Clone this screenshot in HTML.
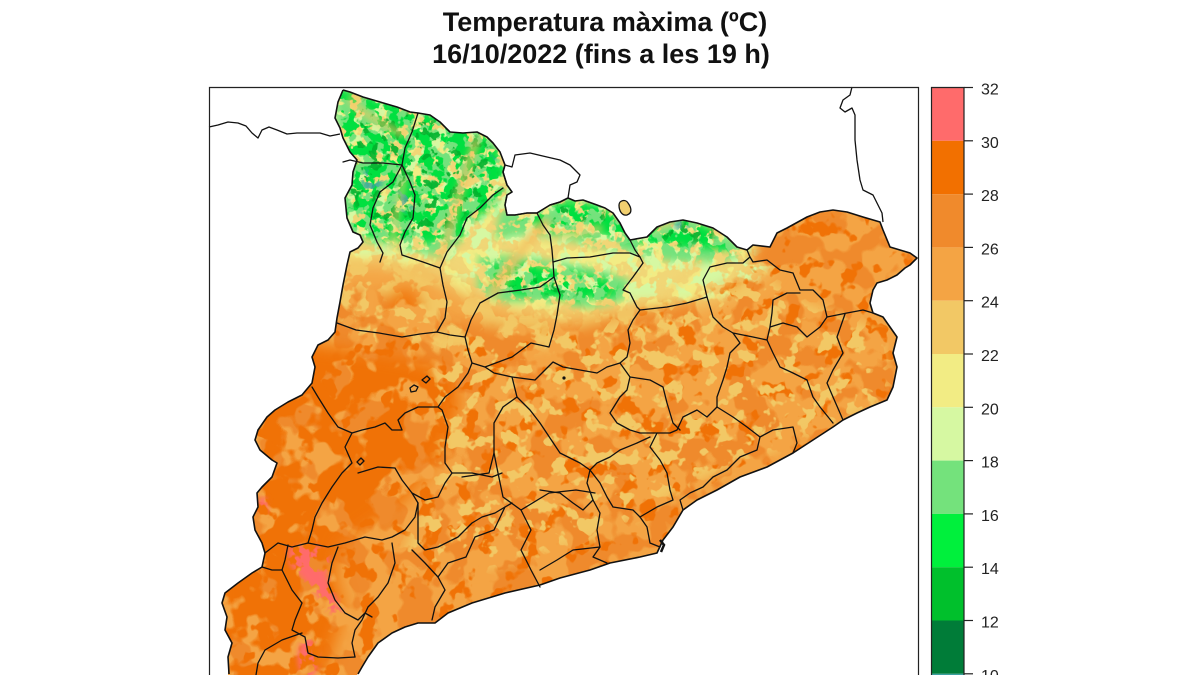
<!DOCTYPE html>
<html><head><meta charset="utf-8"><style>
html,body{margin:0;padding:0;background:#fff;width:1200px;height:675px;overflow:hidden;}
svg{display:block;}
text{font-family:"Liberation Sans",Arial,Helvetica,sans-serif;}
</style></head><body>
<svg width="1200" height="675" viewBox="0 0 1200 675" xmlns="http://www.w3.org/2000/svg" overflow="hidden">
<defs>
<clipPath id="cat"><path d="M343,90 L350,92 363,97 380,102 397,107 410,112 418,113 430,115 440,122 450,132 463,133 477,132 487,137 493,143 500,152 505,165 503,172 507,185 512,192 507,195 505,205 507,215 515,215 527,213 537,213 550,205 560,202 568,198 575,201 583,200 597,205 605,208 613,213 620,223 625,233 630,240 647,237 657,227 670,222 683,220 697,223 713,228 727,237 737,247 747,250 753,245 770,247 777,233 787,228 807,217 820,212 833,210 847,212 863,217 880,222 883,230 890,247 900,250 910,253 917,258 910,265 905,268 897,275 887,280 877,283 873,290 870,303 873,313 883,317 890,327 897,337 893,353 897,367 893,387 887,400 870,407 857,413 843,420 833,427 813,440 793,453 767,467 740,477 717,490 697,500 683,510 673,527 663,540 657,553 640,557 610,563 590,570 560,578 540,585 505,593 472,603 448,613 435,623 418,623 405,627 392,633 378,643 368,657 362,667 357,675 228,675 228,657 232,643 225,630 227,617 222,603 225,593 238,583 252,573 262,567 265,553 262,543 255,530 253,517 258,507 257,493 262,487 272,477 277,463 272,460 260,450 255,440 258,430 267,417 275,410 288,402 302,395 312,383 315,367 312,357 318,345 328,340 335,332 337,318 340,302 343,285 347,265 350,252 358,248 363,242 360,235 353,232 347,218 345,198 352,185 353,172 357,160 350,152 343,138 340,128 335,118 338,102 Z"/></clipPath>

<filter id="fMed" filterUnits="userSpaceOnUse" x="200" y="80" width="730" height="600" color-interpolation-filters="sRGB">
<feTurbulence type="fractalNoise" baseFrequency="0.03" numOctaves="3" seed="3" result="n"/>
<feColorMatrix in="n" type="matrix" values="0 0 0 0 0.937 0 0 0 0 0.541 0 0 0 0 0.172 16 0 0 0 -8" result="c"/>
<feGaussianBlur in="SourceAlpha" stdDeviation="6" result="b"/>
<feComposite in="c" in2="b" operator="in"/></filter>

<filter id="fDark" filterUnits="userSpaceOnUse" x="200" y="80" width="730" height="600" color-interpolation-filters="sRGB">
<feTurbulence type="fractalNoise" baseFrequency="0.03" numOctaves="3" seed="7" result="n"/>
<feColorMatrix in="n" type="matrix" values="0 0 0 0 0.941 0 0 0 0 0.447 0 0 0 0 0.024 16 0 0 0 -7.04" result="c"/>
<feGaussianBlur in="SourceAlpha" stdDeviation="8" result="b"/>
<feComposite in="c" in2="b" operator="in"/></filter>

<filter id="fDarkLo" filterUnits="userSpaceOnUse" x="200" y="80" width="730" height="600" color-interpolation-filters="sRGB">
<feTurbulence type="fractalNoise" baseFrequency="0.05" numOctaves="3" seed="9" result="n"/>
<feColorMatrix in="n" type="matrix" values="0 0 0 0 0.941 0 0 0 0 0.447 0 0 0 0 0.024 16 0 0 0 -9.6" result="c"/>
<feGaussianBlur in="SourceAlpha" stdDeviation="6" result="b"/>
<feComposite in="c" in2="b" operator="in"/></filter>

<filter id="fYel" filterUnits="userSpaceOnUse" x="200" y="80" width="730" height="600" color-interpolation-filters="sRGB">
<feTurbulence type="fractalNoise" baseFrequency="0.06" numOctaves="3" seed="11" result="n"/>
<feColorMatrix in="n" type="matrix" values="0 0 0 0 0.949 0 0 0 0 0.784 0 0 0 0 0.396 16 0 0 0 -9.12" result="c"/>
<feGaussianBlur in="SourceAlpha" stdDeviation="6" result="b"/>
<feComposite in="c" in2="b" operator="in"/></filter>

<filter id="fYelN" filterUnits="userSpaceOnUse" x="200" y="80" width="730" height="600" color-interpolation-filters="sRGB">
<feTurbulence type="fractalNoise" baseFrequency="0.06" numOctaves="3" seed="41" result="n"/>
<feColorMatrix in="n" type="matrix" values="0 0 0 0 0.949 0 0 0 0 0.784 0 0 0 0 0.396 16 0 0 0 -7.6" result="c"/>
<feGaussianBlur in="SourceAlpha" stdDeviation="6" result="b"/>
<feComposite in="c" in2="b" operator="in"/></filter>

<filter id="fYel2" filterUnits="userSpaceOnUse" x="200" y="80" width="730" height="600" color-interpolation-filters="sRGB">
<feTurbulence type="fractalNoise" baseFrequency="0.06" numOctaves="3" seed="13" result="n"/>
<feColorMatrix in="n" type="matrix" values="0 0 0 0 0.949 0 0 0 0 0.925 0 0 0 0 0.518 16 0 0 0 -8" result="c"/>
<feGaussianBlur in="SourceAlpha" stdDeviation="6" result="b"/>
<feComposite in="c" in2="b" operator="in"/></filter>

<filter id="fLG" filterUnits="userSpaceOnUse" x="200" y="80" width="730" height="600" color-interpolation-filters="sRGB">
<feTurbulence type="fractalNoise" baseFrequency="0.07" numOctaves="3" seed="17" result="n"/>
<feColorMatrix in="n" type="matrix" values="0 0 0 0 0.839 0 0 0 0 0.973 0 0 0 0 0.635 16 0 0 0 -8.3" result="c"/>
<feGaussianBlur in="SourceAlpha" stdDeviation="5" result="b"/>
<feComposite in="c" in2="b" operator="in"/></filter>

<filter id="fG1" filterUnits="userSpaceOnUse" x="200" y="80" width="730" height="600" color-interpolation-filters="sRGB">
<feTurbulence type="fractalNoise" baseFrequency="0.08" numOctaves="3" seed="19" result="n"/>
<feColorMatrix in="n" type="matrix" values="0 0 0 0 0.455 0 0 0 0 0.886 0 0 0 0 0.486 16 0 0 0 -7.3" result="c"/>
<feGaussianBlur in="SourceAlpha" stdDeviation="4" result="b"/>
<feComposite in="c" in2="b" operator="in"/></filter>

<filter id="fG2" filterUnits="userSpaceOnUse" x="200" y="80" width="730" height="600" color-interpolation-filters="sRGB">
<feTurbulence type="fractalNoise" baseFrequency="0.09" numOctaves="3" seed="23" result="n"/>
<feColorMatrix in="n" type="matrix" values="0 0 0 0 0 0 0 0 0 0.878 0 0 0 0 0.251 16 0 0 0 -8.2" result="c"/>
<feGaussianBlur in="SourceAlpha" stdDeviation="4" result="b"/>
<feComposite in="c" in2="b" operator="in"/></filter>

<filter id="fG3" filterUnits="userSpaceOnUse" x="200" y="80" width="730" height="600" color-interpolation-filters="sRGB">
<feTurbulence type="fractalNoise" baseFrequency="0.1" numOctaves="3" seed="29" result="n"/>
<feColorMatrix in="n" type="matrix" values="0 0 0 0 0 0 0 0 0 0.698 0 0 0 0 0.173 16 0 0 0 -9.6" result="c"/>
<feGaussianBlur in="SourceAlpha" stdDeviation="3" result="b"/>
<feComposite in="c" in2="b" operator="in"/></filter>

<filter id="fTeal" filterUnits="userSpaceOnUse" x="200" y="80" width="730" height="600" color-interpolation-filters="sRGB">
<feTurbulence type="fractalNoise" baseFrequency="0.1" numOctaves="3" seed="37" result="n"/>
<feColorMatrix in="n" type="matrix" values="0 0 0 0 0.227 0 0 0 0 0.627 0 0 0 0 0.627 16 0 0 0 -8.6" result="c"/>
<feGaussianBlur in="SourceAlpha" stdDeviation="3" result="b"/>
<feComposite in="c" in2="b" operator="in"/></filter>

<filter id="fPink" filterUnits="userSpaceOnUse" x="200" y="80" width="730" height="600" color-interpolation-filters="sRGB">
<feTurbulence type="fractalNoise" baseFrequency="0.07" numOctaves="3" seed="31" result="n"/>
<feColorMatrix in="n" type="matrix" values="0 0 0 0 1 0 0 0 0 0.42 0 0 0 0 0.42 16 0 0 0 -7.6" result="c"/>
<feGaussianBlur in="SourceAlpha" stdDeviation="3" result="b"/>
<feComposite in="c" in2="b" operator="in"/></filter>

<filter id="bl10" x="-20%" y="-20%" width="140%" height="140%"><feGaussianBlur stdDeviation="10"/></filter>
<filter id="bl4" x="-20%" y="-20%" width="140%" height="140%"><feGaussianBlur stdDeviation="3.5"/></filter>
</defs>

<rect width="1200" height="675" fill="#fff"/>

<text x="605" y="31" font-size="27" font-weight="bold" text-anchor="middle" fill="#111">Temperatura màxima (ºC)</text>
<text x="601" y="63" font-size="27" font-weight="bold" text-anchor="middle" fill="#111">16/10/2022 (fins a les 19 h)</text>

<g clip-path="url(#cat)">
  <rect x="200" y="80" width="730" height="595" fill="#f4a444"/>
  <path d="M330,85 L520,85 600,190 650,215 720,215 760,240 770,265 740,290 700,305 640,312 560,318 490,305 450,285 420,270 380,262 330,262 Z" fill="#f1d676" filter="url(#bl10)"/>
  <path d="M330,85 L520,85 600,190 650,215 720,215 760,240 770,265 740,290 700,305 640,312 560,318 490,305 450,285 420,270 380,262 330,262 Z" fill="#000" filter="url(#fYel2)"/>
  <path d="M330,85 L520,85 600,190 650,215 720,215 760,240 770,265 740,290 700,298 640,300 560,300 490,290 440,265 380,255 330,255 Z" fill="#000" filter="url(#fLG)"/>
  <path d="M330,255 L400,262 450,285 500,305 560,315 640,310 700,305 700,335 600,345 520,350 450,350 380,345 330,340 Z" fill="#000" filter="url(#fYelN)"/>
  <path d="M220,290 L330,285 400,300 450,320 520,330 570,330 630,315 700,300 745,275 760,240 800,205 930,205 930,690 220,690 Z" fill="#000" filter="url(#fMed)"/>
  <path d="M220,320 L330,318 400,330 450,335 520,335 570,330 630,315 700,300 745,275 760,240 800,205 930,205 930,690 220,690 Z" fill="#000" filter="url(#fDarkLo)"/>
  <path d="M215,350 L300,342 360,350 410,358 450,370 460,400 450,440 430,470 405,500 370,525 340,545 335,575 345,610 335,640 320,690 215,690 Z" fill="#000" filter="url(#fDark)"/>
  <ellipse cx="405" cy="312" rx="14" ry="24" fill="#000" filter="url(#fDark)"/>
  <path d="M430,330 L560,330 700,300 760,270 800,300 880,330 890,400 800,440 700,480 600,540 480,570 400,560 440,460 Z" fill="#000" filter="url(#fYel)"/>
  <g fill="#000" filter="url(#fG1)">
    <path d="M335,88 L420,110 470,128 495,140 505,170 500,200 480,215 460,240 445,258 420,252 395,246 372,242 350,236 340,200 Z"/>
    <path d="M500,210 L540,212 570,200 600,205 625,222 645,233 690,218 735,240 745,252 720,262 680,262 650,258 620,250 590,245 555,238 520,235 495,240 Z"/>
    <path d="M478,255 L515,255 555,262 595,268 630,280 625,300 590,308 545,302 505,302 478,292 Z"/>
  </g>
  <g fill="#000" filter="url(#fG2)">
    <path d="M335,88 L420,110 470,128 495,140 505,170 500,200 480,215 460,238 420,244 395,240 372,238 350,232 340,200 Z"/>
    <path d="M505,212 L540,212 570,200 600,205 625,222 645,233 690,218 735,240 730,250 690,248 650,245 600,235 550,232 Z"/>
    <path d="M490,264 L530,264 570,272 610,280 620,295 580,300 530,296 495,290 Z"/>
  </g>
  <g fill="#000" filter="url(#fG3)" opacity="0.9">
    <path d="M340,95 L420,114 470,132 492,148 496,190 470,212 450,230 420,234 390,228 362,222 347,190 Z"/>
    <path d="M548,205 L580,203 610,212 605,222 575,224 550,220 Z"/>
    <path d="M658,228 L690,220 718,232 708,243 680,244 658,238 Z"/>
    <path d="M498,276 L530,278 575,282 598,290 580,296 530,292 500,288 Z"/>
  </g>
  <g fill="#000" filter="url(#fTeal)" opacity="0.8">
    <ellipse cx="372" cy="182" rx="10" ry="14"/>
    <ellipse cx="405" cy="200" rx="10" ry="12"/>
    <ellipse cx="490" cy="163" rx="6" ry="8"/>
    <ellipse cx="682" cy="226" rx="8" ry="5"/>
  </g>
  <g fill="none" stroke-linecap="round" filter="url(#bl4)" opacity="0.75">
    <path d="M350,100 C362,112 380,124 402,134" stroke="#f2c865" stroke-width="6"/>
    <path d="M476,142 C466,168 459,195 452,222 S442,248 442,260" stroke="#f2c060" stroke-width="7"/>
    <path d="M545,224 C528,240 512,262 494,292" stroke="#f2c060" stroke-width="12"/>
    <path d="M404,180 C398,205 394,232 390,250" stroke="#f2d070" stroke-width="5"/>
    <path d="M600,228 C580,234 560,238 545,240" stroke="#f2d070" stroke-width="6"/>
    <path d="M700,262 C690,272 675,282 665,296" stroke="#f2d070" stroke-width="6"/>
  </g>
  <g fill="#000" filter="url(#fPink)">
    <path d="M288,548 L300,545 318,546 330,558 326,575 333,592 342,608 338,618 326,608 315,592 302,578 290,565 Z"/>
    <path d="M292,552 L300,550 316,552 324,562 320,578 326,592 318,590 306,575 294,562 Z"/>
    <ellipse cx="263" cy="506" rx="5" ry="9"/>
    <ellipse cx="308" cy="658" rx="10" ry="20"/>
  </g>
</g>

<g fill="none" stroke="#111" stroke-width="1.3" stroke-linejoin="round">
  <path d="M209,127 L218,125 228,122 238,123 246,126 252,133 258,138 262,130 269,127 277,130 287,134 297,133 310,133 320,133 330,136 340,134"/>
  <path d="M852,87 L850,95 843,100 840,108 845,112 852,108 855,115 855,140 857,160 860,180 863,190 873,195 877,203 882,213 883,222"/>
  <path d="M505,165 L512,167 515,155 530,153 547,157 560,160 570,165 580,175 577,182 570,185 568,198 560,202 550,205 537,213 527,213 515,215 507,215 505,205 507,195 512,192 507,185 503,172 Z"/>
  <path d="M619,205 C619,200 626,199 628,203 C631,207 633,213 627,215 C622,216 619,211 619,205 Z" fill="#f2d070"/>
</g>

<g fill="none" stroke="#111" stroke-width="1.3" stroke-linejoin="round" stroke-linecap="round">
  <path d="M418,113 L412,132 405,148 402,165"/>
  <path d="M343,162 L350,160 363,163 383,163 402,165"/>
  <path d="M402,165 L393,182 380,192 373,208 370,225 377,242 383,253 380,262"/>
  <path d="M402,165 L410,182 415,195 413,218 405,232 400,245 402,255 423,262 440,268"/>
  <path d="M440,268 L447,252 460,235 467,218 480,208 493,195 503,188"/>
  <path d="M440,268 L443,285 447,302 445,318 437,332"/>
  <path d="M337,323 L356,330 379,333 402,337 420,334 437,332 450,335 465,337"/>
  <path d="M498,293 L480,303 471,320 465,337 468,350 472,363 468,373 458,387 445,397 438,407 418,407 405,413 398,420 402,430 392,430 385,423 375,427 362,430 352,433 338,427 328,413 318,397 312,387"/>
  <path d="M498,293 L521,290 540,287 554,277 553,262"/>
  <path d="M537,213 L543,225 550,235 552,250 553,262"/>
  <path d="M553,262 L567,258 590,257 613,253 630,253 640,257 643,263"/>
  <path d="M630,240 L635,250 640,257"/>
  <path d="M643,263 L633,277 623,290 630,293 637,307 640,310"/>
  <path d="M640,310 L667,307 687,303 707,297"/>
  <path d="M707,297 L703,280 710,267 727,263 743,263 750,257 747,250"/>
  <path d="M707,297 L713,317 723,327 733,333 740,343 730,353 727,367 723,380 717,397 717,407"/>
  <path d="M750,257 L753,262 767,260 780,270 793,273 800,290 813,290 823,300 827,317"/>
  <path d="M800,293 L787,293 773,300 772,313 770,327 783,323 797,327 807,337 820,327 827,317"/>
  <path d="M827,317 L847,313 863,310 873,313"/>
  <path d="M733,333 L753,337 767,340 770,327"/>
  <path d="M767,340 L773,353 780,367 793,373 807,380 813,397 820,407 833,423"/>
  <path d="M845,314 L837,337 843,353 833,370 827,383 833,397 840,413 843,420"/>
  <path d="M472,363 L485,367 512,357 531,343 549,347 554,330 557,315 560,295 554,277"/>
  <path d="M512,377 L535,380 553,362 563,367 580,370 597,373 607,367 620,363 627,357 630,343 628,330 633,320 640,310"/>
  <path d="M485,367 L494,373 512,377 517,397 503,407 494,423 494,453 489,473 462,477"/>
  <path d="M620,363 L630,377 627,390 620,397 610,413 617,423 630,430 640,433 657,433 670,433 677,430 683,417 697,410 707,417 717,407"/>
  <path d="M630,377 L650,380 663,387 667,403 673,423 680,430"/>
  <path d="M717,407 L733,417 747,427 760,437 773,430 793,427 797,443 793,453"/>
  <path d="M760,437 L757,450 740,457 727,470 713,477 703,487 690,493 680,500 683,510"/>
  <path d="M657,433 L650,447 660,460 667,473 670,490 673,500 657,507 640,517 647,527 650,543 660,547"/>
  <path d="M517,397 L530,410 540,423 560,453 580,463 590,470 597,463 610,457 620,450 637,443 650,437"/>
  <path d="M590,470 L600,483 607,497 613,507 633,510 640,517"/>
  <path d="M590,470 L587,483 593,500 583,510 573,503 560,493 540,490"/>
  <path d="M593,500 L600,513 597,530 600,547 593,557 607,563"/>
  <path d="M600,547 L573,550 557,560 540,570"/>
  <path d="M494,453 L498,473 503,497 521,510 549,493 576,490 595,493"/>
  <path d="M358,473 L378,467 395,468 402,480 412,493 425,500 438,497 445,483 452,473 445,463 445,447 448,427 442,410 438,407"/>
  <path d="M452,473 L472,473 492,477 502,473"/>
  <path d="M418,503 L415,517 405,530 392,537 382,540 365,537 345,543 328,547 308,543"/>
  <path d="M308,543 L292,547 278,543 265,553"/>
  <path d="M308,543 L312,530 315,517 322,503 332,487 342,473 352,463 345,447 352,433"/>
  <path d="M412,493 L418,503 418,543 425,550 438,547 458,537 472,523 482,517 495,513 505,507 512,503"/>
  <path d="M338,547 L332,563 328,583 335,600 345,613 358,620 365,613 372,617"/>
  <path d="M392,543 L395,563 388,583 378,597 368,607 362,620 355,630 352,643 355,657"/>
  <path d="M412,550 L425,563 438,577 445,590 435,607 432,620"/>
  <path d="M282,570 L272,570 262,567"/>
  <path d="M288,545 L285,560 282,570 292,590 302,603 295,620 292,630 305,637 308,653 318,657 338,658 355,657"/>
  <path d="M302,633 L282,640 265,650 258,663 256,675"/>
  <path d="M521,510 L531,530 521,550 531,570 540,587"/>
  <path d="M505,507 L494,530 475,537 466,557 448,563 438,577"/>
  <path d="M410,388 l4,-3 4,2 -2,4 -5,1 Z M422,380 l5,-4 3,3 -4,4 Z M357,462 l4,-4 3,3 -4,4 Z"/>
</g>
<path d="M660,540 L664,545 661,552" stroke="#111" stroke-width="2.5" fill="none"/>
<circle cx="564" cy="378" r="1.6" fill="#111"/>

<path fill="none" stroke="#111" stroke-width="1.6" stroke-linejoin="round" d="M343,90 L350,92 363,97 380,102 397,107 410,112 418,113 430,115 440,122 450,132 463,133 477,132 487,137 493,143 500,152 505,165 503,172 507,185 512,192 507,195 505,205 507,215 515,215 527,213 537,213 550,205 560,202 568,198 575,201 583,200 597,205 605,208 613,213 620,223 625,233 630,240 647,237 657,227 670,222 683,220 697,223 713,228 727,237 737,247 747,250 753,245 770,247 777,233 787,228 807,217 820,212 833,210 847,212 863,217 880,222 883,230 890,247 900,250 910,253 917,258 910,265 905,268 897,275 887,280 877,283 873,290 870,303 873,313 883,317 890,327 897,337 893,353 897,367 893,387 887,400 870,407 857,413 843,420 833,427 813,440 793,453 767,467 740,477 717,490 697,500 683,510 673,527 663,540 657,553 640,557 610,563 590,570 560,578 540,585 505,593 472,603 448,613 435,623 418,623 405,627 392,633 378,643 368,657 362,667 358,674 M229,674 L228,657 232,643 225,630 227,617 222,603 225,593 238,583 252,573 262,567 265,553 262,543 255,530 253,517 258,507 257,493 262,487 272,477 277,463 272,460 260,450 255,440 258,430 267,417 275,410 288,402 302,395 312,383 315,367 312,357 318,345 328,340 335,332 337,318 340,302 343,285 347,265 350,252 358,248 363,242 360,235 353,232 347,218 345,198 352,185 353,172 357,160 350,152 343,138 340,128 335,118 338,102 343,90"/>

<path d="M209.5,675 L209.5,87.5 L918.5,87.5 L918.5,675" fill="none" stroke="#222" stroke-width="1.2"/>

<g>
  <rect x="931" y="87.5" width="33" height="53.3" fill="#ff6b6b"/>
  <rect x="931" y="140.8" width="33" height="53.3" fill="#f27000"/>
  <rect x="931" y="194.1" width="33" height="53.3" fill="#f08a2c"/>
  <rect x="931" y="247.4" width="33" height="53.3" fill="#f4a444"/>
  <rect x="931" y="300.7" width="33" height="53.3" fill="#f2c865"/>
  <rect x="931" y="354.0" width="33" height="53.3" fill="#f2ec84"/>
  <rect x="931" y="407.3" width="33" height="53.3" fill="#d6f8a2"/>
  <rect x="931" y="460.6" width="33" height="53.3" fill="#74e27c"/>
  <rect x="931" y="513.9" width="33" height="53.3" fill="#00f03c"/>
  <rect x="931" y="567.2" width="33" height="53.3" fill="#00c02c"/>
  <rect x="931" y="620.5" width="33" height="53.3" fill="#007c38"/>
  <rect x="931" y="673.8" width="33" height="1.2" fill="#3aa0a0"/>
  <path d="M931.5,675 L931.5,87.5 L964,87.5 L964,675" fill="none" stroke="#222" stroke-width="1.2"/>
  <g stroke="#222" stroke-width="1.2">
    <line x1="964" y1="87.5" x2="973" y2="87.5"/>
    <line x1="964" y1="140.8" x2="973" y2="140.8"/>
    <line x1="964" y1="194.1" x2="973" y2="194.1"/>
    <line x1="964" y1="247.4" x2="973" y2="247.4"/>
    <line x1="964" y1="300.7" x2="973" y2="300.7"/>
    <line x1="964" y1="354.0" x2="973" y2="354.0"/>
    <line x1="964" y1="407.3" x2="973" y2="407.3"/>
    <line x1="964" y1="460.6" x2="973" y2="460.6"/>
    <line x1="964" y1="513.9" x2="973" y2="513.9"/>
    <line x1="964" y1="567.2" x2="973" y2="567.2"/>
    <line x1="964" y1="620.5" x2="973" y2="620.5"/>
    <line x1="964" y1="673.8" x2="973" y2="673.8"/>
  </g>
  <g font-size="16" fill="#222">
    <text x="981" y="94.5">32</text>
    <text x="981" y="147.8">30</text>
    <text x="981" y="201.1">28</text>
    <text x="981" y="254.4">26</text>
    <text x="981" y="307.7">24</text>
    <text x="981" y="361">22</text>
    <text x="981" y="414.3">20</text>
    <text x="981" y="467.6">18</text>
    <text x="981" y="520.9">16</text>
    <text x="981" y="574.2">14</text>
    <text x="981" y="627.5">12</text>
  </g>
  <svg x="975" y="662" width="40" height="13" overflow="hidden">
    <text x="6" y="18.8" font-size="16" fill="#222">10</text>
  </svg>
</g>
</svg>
</body></html>
